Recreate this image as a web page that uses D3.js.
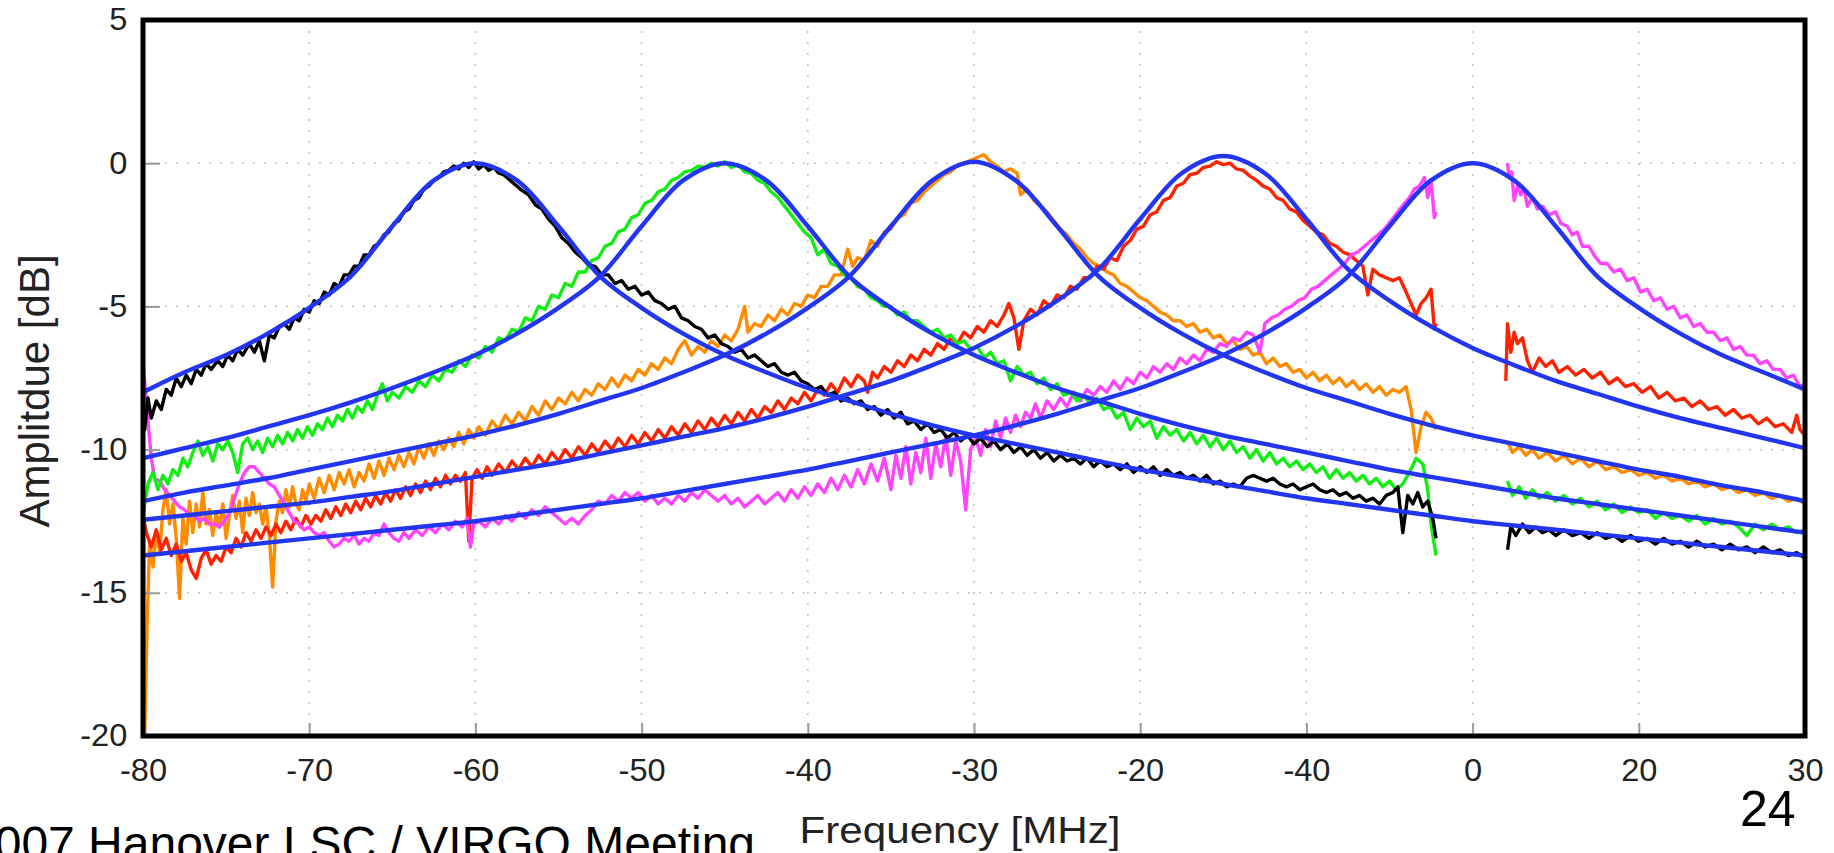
<!DOCTYPE html>
<html>
<head>
<meta charset="utf-8">
<title>Cavity scan</title>
<script src="https://d3js.org/d3.v7.min.js"></script>
<style>
  body { margin: 0; background: #fff; overflow: hidden; }
  svg { display: block; font-family: "Liberation Sans", Arial, Helvetica, sans-serif; }
</style>
</head>
<body>
<svg id="chart"></svg>
<script>
// ---- axis ticks (labels copied as printed on the slide) ----
var xTickValues = [-80, -70, -60, -50, -40, -30, -20, -10, 0, 10, 20];
var xTickLabels = ["-80", "-70", "-60", "-50", "-40", "-30", "-20", "-40", "0", "20", "30"];
var yTickValues = [5, 0, -5, -10, -15, -20];
var yTickLabels = ["5", "0", "-5", "-10", "-15", "-20"];

// ---- fitted curves (blue), read every 2.5 MHz ----
var fitX = [-80,-77.5,-75,-72.5,-70,-67.5,-65,-62.5,-60,-57.5,-55,-52.5,-50,-47.5,-45,-42.5,-40,-37.5,-35,-32.5,
            -30,-27.5,-25,-22.5,-20,-17.5,-15,-12.5,-10,-7.5,-5,-2.5,0,2.5,5,7.5,10,12.5,15,17.5,20];
var fitBlack = [-8.0,-7.3,-6.7,-5.95,-5.05,-3.95,-2.2,-0.6,0,-0.6,-2.2,-3.95,-5.05,-5.95,-6.7,-7.3,-7.85,-8.3,-8.75,-9.15,
                -9.5,-9.8,-10.1,-10.4,-10.7,-10.95,-11.2,-11.45,-11.7,-11.9,-12.1,-12.3,-12.5,-12.65,-12.8,-12.95,-13.1,-13.25,-13.4,-13.55,-13.7];
var fitGreen = [-10.3,-9.95,-9.6,-9.2,-8.8,-8.35,-7.85,-7.3,-6.7,-5.95,-5.05,-3.95,-2.2,-0.6,0,-0.6,-2.2,-3.95,-5.05,-5.95,
                -6.7,-7.3,-7.85,-8.3,-8.75,-9.15,-9.5,-9.8,-10.1,-10.4,-10.7,-10.95,-11.2,-11.45,-11.7,-11.9,-12.1,-12.3,-12.5,-12.7,-12.9];
var fitOrange = [-11.8,-11.5,-11.25,-11.0,-10.7,-10.4,-10.1,-9.8,-9.5,-9.15,-8.75,-8.3,-7.85,-7.3,-6.7,-5.95,-5.05,-3.95,-2.2,-0.6,
                 0.05,-0.6,-2.2,-3.95,-5.05,-5.95,-6.7,-7.3,-7.85,-8.3,-8.75,-9.15,-9.5,-9.8,-10.1,-10.4,-10.7,-10.95,-11.25,-11.5,-11.8];
var fitRed = [-12.45,-12.3,-12.15,-12.0,-11.85,-11.65,-11.45,-11.2,-10.95,-10.7,-10.45,-10.15,-9.85,-9.55,-9.25,-8.9,-8.5,-8.05,-7.6,-7.05,
              -6.45,-5.7,-4.8,-3.7,-1.95,-0.35,0.25,-0.35,-1.95,-3.7,-4.8,-5.7,-6.45,-7.05,-7.6,-8.05,-8.5,-8.9,-9.25,-9.6,-9.95];
var fitMagenta = [-13.7,-13.55,-13.4,-13.25,-13.1,-12.95,-12.8,-12.65,-12.5,-12.3,-12.1,-11.9,-11.7,-11.45,-11.2,-10.95,-10.7,-10.4,-10.1,-9.8,
                  -9.5,-9.15,-8.75,-8.3,-7.85,-7.3,-6.7,-5.95,-5.05,-3.95,-2.2,-0.6,0,-0.6,-2.2,-3.95,-5.05,-5.95,-6.7,-7.3,-7.9];

// ---- measured traces [MHz, dB]; each has a gap around the carrier ----
var blackLeft = [[-80,-8.4],[-79.9,-9.3],[-79.7,-8.2],[-79.5,-8.9],[-79.2,-8.3],[-78.9,-8.6],[-78.6,-7.9],[-78.3,-8.1],[-78,-7.5],[-77.7,-7.8],
  [-77.4,-7.4],[-77.1,-7.7],[-76.8,-7.2],[-76.5,-7.4],[-76.2,-7.0],[-75.9,-7.2],[-75.5,-6.9],[-75.2,-7.1],[-74.9,-6.7],[-74.6,-6.9],
  [-74.3,-6.5],[-74,-6.7],[-73.6,-6.3],[-73.3,-6.6],[-73,-6.2],[-72.7,-6.9],[-72.4,-6.0],[-72.1,-6.1],[-71.8,-5.7],[-71.5,-5.6],
  [-71.2,-5.8],[-70.9,-5.4],[-70.6,-5.5],[-70.3,-5.1],[-70,-5.2],[-69.7,-4.8],[-69.4,-4.9],[-69.1,-4.5],[-68.8,-4.6],[-68.5,-4.2],
  [-68.2,-4.3],[-67.9,-3.9],[-67.6,-3.9],[-67.3,-3.6],[-67,-3.6],[-66.7,-3.2],[-66.4,-3.2],[-66.1,-2.9],[-65.8,-2.8],[-65.5,-2.5],
  [-65.2,-2.4],[-64.9,-2.1],[-64.6,-2.0],[-64.3,-1.7],[-64,-1.6],[-63.7,-1.3],[-63.4,-1.2],[-63.1,-0.9],[-62.8,-0.8],[-62.5,-0.6],
  [-62.2,-0.5],[-61.9,-0.3],[-61.6,-0.25],[-61.3,-0.1],[-61,-0.2],[-60.7,0.0],[-60.4,-0.15],[-60.1,0.05],[-59.8,-0.2],[-59.5,-0.05],
  [-59.2,-0.25],[-58.9,-0.15],[-58.6,-0.35],[-58.3,-0.4],[-58,-0.55],[-57.6,-0.75],[-57.2,-0.95],[-56.8,-1.1],[-56.4,-1.45],[-56,-1.6],
  [-55.6,-1.95],[-55.2,-2.2],[-54.8,-2.6],[-54.4,-2.8],[-54,-3.1],[-53.6,-3.3],[-53.2,-3.55],[-52.8,-3.6],[-52.4,-3.9],[-52,-3.9],
  [-51.6,-4.2],[-51.2,-4.1],[-50.8,-4.4],[-50.4,-4.3],[-50,-4.6],[-49.6,-4.5],[-49.2,-4.8],[-48.8,-4.9],[-48.4,-5.1],[-48,-5.0],
  [-47.6,-5.4],[-47.2,-5.5],[-46.8,-5.7],[-46.4,-5.8],[-46,-6.1],[-45.6,-6.0],[-45.2,-6.3],[-44.8,-6.4],[-44.4,-6.6],[-44,-6.5],
  [-43.6,-6.8],[-43.2,-6.7],[-42.8,-6.9],[-42.4,-7.1],[-42,-7.0],[-41.6,-7.3],[-41.2,-7.4],[-40.8,-7.3],[-40.4,-7.6],[-40,-7.7],
  [-39.6,-7.9],[-39.2,-7.8],[-38.8,-8.1],[-38.4,-8.0],[-38,-8.3],[-37.6,-8.2],[-37.2,-8.4],[-36.8,-8.3],[-36.4,-8.6],[-36,-8.5],
  [-35.6,-8.8],[-35.2,-8.6],[-34.8,-8.9],[-34.4,-8.7],[-34,-9.1],[-33.6,-9.0],[-33.2,-9.3],[-32.8,-9.1],[-32.4,-9.4],[-32,-9.3],
  [-31.6,-9.6],[-31.2,-9.4],[-30.8,-9.7],[-30.4,-9.5],[-30,-9.8],[-29.6,-9.6],[-29.2,-9.9],[-28.8,-9.7],[-28.4,-10.0],[-28,-9.8],
  [-27.6,-10.1],[-27.2,-9.9],[-26.8,-10.2],[-26.4,-10.0],[-26,-10.3],[-25.6,-10.1],[-25.2,-10.4],[-24.8,-10.2],[-24.4,-10.4],[-24,-10.3],
  [-23.6,-10.5],[-23.2,-10.3],[-22.8,-10.6],[-22.4,-10.4],[-22,-10.6],[-21.6,-10.5],[-21.2,-10.7],[-20.8,-10.5],[-20.4,-10.8],[-20,-10.6],
  [-19.6,-10.8],[-19.2,-10.6],[-18.8,-10.9],[-18.4,-10.7],[-18,-10.9],[-17.6,-10.8],[-17.2,-11.0],[-16.8,-10.9],[-16.4,-11.1],[-16,-10.9],
  [-15.6,-11.2],[-15.2,-11.1],[-14.8,-11.3],[-14.4,-11.2],[-14,-11.3],[-13.6,-11.0],[-13.2,-10.9],[-12.8,-11.0],[-12.4,-11.1],[-12,-11.0],
  [-11.6,-11.2],[-11.2,-11.3],[-10.8,-11.2],[-10.4,-11.4],[-10,-11.3],[-9.6,-11.2],[-9.2,-11.4],[-8.8,-11.5],[-8.4,-11.4],[-8,-11.6],
  [-7.6,-11.5],[-7.2,-11.7],[-6.8,-11.6],[-6.4,-11.8],[-6,-11.7],[-5.6,-11.9],[-5.2,-11.6],[-4.8,-11.5],[-4.5,-11.3],[-4.2,-12.9],
  [-3.9,-11.6],[-3.6,-11.9],[-3.3,-11.5],[-3.0,-12.0],[-2.7,-11.8],[-2.4,-12.4],[-2.2,-13.1]];
var blackRight = [[2.1,-13.5],[2.3,-12.7],[2.6,-13.0],[3.0,-12.6],[3.4,-12.9],[3.8,-12.7],[4.2,-12.9],[4.6,-12.8],[5,-13.0],[5.5,-12.8],
  [6,-13.0],[6.5,-12.9],[7,-13.1],[7.5,-12.9],[8,-13.1],[8.5,-13.0],[9,-13.2],[9.5,-13.0],[10,-13.2],[10.5,-13.1],
  [11,-13.3],[11.5,-13.1],[12,-13.3],[12.5,-13.2],[13,-13.4],[13.5,-13.2],[14,-13.4],[14.5,-13.3],[15,-13.5],[15.5,-13.3],
  [16,-13.5],[16.5,-13.4],[17,-13.6],[17.5,-13.4],[18,-13.6],[18.5,-13.5],[19,-13.7],[19.5,-13.6],[20,-13.8]];

var greenLeft = [[-80,-12.6],[-79.9,-11.9],[-79.7,-11.2],[-79.4,-10.8],[-79.1,-11.4],[-78.8,-10.9],[-78.5,-11.2],[-78.2,-10.7],[-77.9,-10.9],[-77.6,-10.3],
  [-77.3,-10.6],[-77,-10.1],[-76.7,-9.7],[-76.4,-10.2],[-76.1,-9.9],[-75.8,-10.4],[-75.5,-9.8],[-75.2,-10.0],[-74.9,-9.7],[-74.6,-10.1],
  [-74.3,-10.8],[-74,-9.8],[-73.7,-9.6],[-73.4,-10.0],[-73.1,-9.7],[-72.8,-10.1],[-72.5,-9.6],[-72.2,-9.9],[-71.9,-9.5],[-71.6,-9.8],
  [-71.3,-9.4],[-71,-9.7],[-70.7,-9.3],[-70.4,-9.6],[-70.1,-9.2],[-69.8,-9.5],[-69.5,-9.1],[-69.2,-9.3],[-68.9,-8.9],[-68.6,-9.2],
  [-68.3,-8.8],[-68,-9.0],[-67.7,-8.6],[-67.4,-8.9],[-67.1,-8.5],[-66.8,-8.7],[-66.5,-8.3],[-66.2,-8.6],[-65.9,-8.1],[-65.6,-7.7],
  [-65.3,-8.3],[-65,-8.0],[-64.6,-8.2],[-64.2,-7.8],[-63.8,-8.0],[-63.4,-7.6],[-63,-7.8],[-62.6,-7.4],[-62.2,-7.6],[-61.8,-7.2],
  [-61.4,-7.3],[-61,-6.9],[-60.6,-7.1],[-60.2,-6.7],[-59.8,-6.8],[-59.4,-6.4],[-59,-6.6],[-58.6,-6.1],[-58.2,-6.2],[-57.8,-5.8],
  [-57.4,-5.9],[-57,-5.4],[-56.6,-5.5],[-56.2,-5.0],[-55.8,-5.1],[-55.4,-4.6],[-55,-4.7],[-54.6,-4.2],[-54.2,-4.3],[-53.8,-3.8],
  [-53.4,-3.8],[-53,-3.4],[-52.6,-3.3],[-52.2,-2.9],[-51.8,-2.8],[-51.4,-2.4],[-51,-2.3],[-50.6,-1.9],[-50.2,-1.8],[-49.8,-1.4],
  [-49.4,-1.3],[-49,-1.0],[-48.6,-0.9],[-48.2,-0.6],[-47.8,-0.5],[-47.4,-0.3],[-47,-0.25],[-46.6,-0.1],[-46.2,-0.15],[-45.8,0.0],
  [-45.4,-0.1],[-45,0.05],[-44.6,-0.15],[-44.2,-0.05],[-43.8,-0.3],[-43.4,-0.35],[-43,-0.6],[-42.6,-0.7],[-42.2,-1.0],[-41.8,-1.2],
  [-41.4,-1.5],[-41,-1.8],[-40.6,-2.1],[-40.2,-2.4],[-39.8,-2.6],[-39.4,-3.2],[-39,-3.0],[-38.6,-3.5],[-38.2,-3.6],[-37.8,-3.9],
  [-37.4,-4.0],[-37,-4.3],[-36.6,-4.4],[-36.2,-4.7],[-35.8,-4.8],[-35.4,-5.0],[-35,-5.0],[-34.6,-5.3],[-34.2,-5.2],[-33.8,-5.5],
  [-33.4,-5.5],[-33,-5.7],[-32.6,-5.9],[-32.2,-5.8],[-31.8,-6.1],[-31.4,-6.0],[-31,-6.3],[-30.6,-6.2],[-30.2,-6.5],[-29.8,-6.4],
  [-29.4,-6.8],[-29,-6.6],[-28.6,-7.0],[-28.2,-6.9],[-27.8,-7.6],[-27.4,-7.1],[-27,-7.4],[-26.6,-7.3],[-26.2,-7.7],[-25.8,-7.5],
  [-25.4,-7.9],[-25,-7.7],[-24.6,-8.1],[-24.2,-8.0],[-23.8,-8.3],[-23.4,-8.1],[-23,-8.4],[-22.6,-8.2],[-22.2,-8.6],[-21.8,-8.5],
  [-21.4,-8.9],[-21,-8.7],[-20.6,-9.3],[-20.2,-8.9],[-19.8,-9.2],[-19.4,-9.0],[-19,-9.6],[-18.6,-9.2],[-18.2,-9.5],[-17.8,-9.3],
  [-17.4,-9.7],[-17,-9.4],[-16.6,-9.8],[-16.2,-9.5],[-15.8,-9.9],[-15.4,-9.6],[-15,-10.0],[-14.6,-9.7],[-14.2,-10.1],[-13.8,-9.9],
  [-13.4,-10.3],[-13,-10.0],[-12.6,-10.4],[-12.2,-10.1],[-11.8,-10.5],[-11.4,-10.3],[-11,-10.6],[-10.6,-10.4],[-10.2,-10.7],[-9.8,-10.5],
  [-9.4,-10.8],[-9,-10.6],[-8.6,-11.0],[-8.2,-10.7],[-7.8,-11.0],[-7.4,-10.8],[-7,-11.1],[-6.6,-10.9],[-6.2,-11.2],[-5.8,-11.0],
  [-5.4,-11.3],[-5,-11.1],[-4.6,-11.4],[-4.2,-11.2],[-3.8,-10.8],[-3.4,-10.3],[-3.0,-10.5],[-2.7,-11.4],[-2.5,-12.6],[-2.2,-13.7]];
var greenRight = [[2.1,-11.1],[2.4,-11.6],[2.8,-11.3],[3.2,-11.7],[3.6,-11.4],[4,-11.7],[4.5,-11.5],[5,-11.8],[5.5,-11.6],[6,-11.9],
  [6.5,-11.7],[7,-12.0],[7.5,-11.8],[8,-12.1],[8.5,-11.9],[9,-12.2],[9.5,-12.0],[10,-12.2],[10.5,-12.1],[11,-12.4],
  [11.5,-12.2],[12,-12.4],[12.5,-12.3],[13,-12.5],[13.5,-12.3],[14,-12.6],[14.5,-12.4],[15,-12.6],[15.5,-12.5],[16,-12.7],
  [16.5,-13.0],[17,-12.6],[17.5,-12.8],[18,-12.6],[18.5,-12.8],[19,-12.7],[19.5,-12.9],[20,-12.8]];

var orangeLeft = [[-80,-17.5],[-79.9,-20.0],[-79.75,-16.0],[-79.6,-13.2],[-79.4,-14.1],[-79.2,-12.9],[-79,-13.6],[-78.8,-12.1],[-78.6,-11.4],[-78.4,-12.6],
  [-78.2,-11.9],[-78,-13.1],[-77.8,-15.2],[-77.6,-12.4],[-77.4,-13.3],[-77.2,-11.8],[-77,-12.9],[-76.8,-11.9],[-76.6,-12.7],[-76.4,-11.5],
  [-76.2,-12.6],[-76,-12.1],[-75.8,-13.0],[-75.6,-12.2],[-75.4,-12.7],[-75.2,-11.9],[-75,-13.1],[-74.8,-12.3],[-74.6,-11.6],[-74.4,-12.4],
  [-74.2,-11.8],[-74,-12.9],[-73.8,-11.7],[-73.6,-12.3],[-73.4,-11.5],[-73.2,-12.2],[-73,-11.9],[-72.8,-12.6],[-72.6,-12.0],[-72.4,-13.0],
  [-72.2,-14.8],[-72,-12.5],[-71.8,-11.8],[-71.6,-12.2],[-71.4,-11.4],[-71.2,-12.0],[-71,-11.3],[-70.8,-11.9],[-70.6,-12.1],[-70.4,-11.4],
  [-70.2,-11.8],[-70,-11.2],[-69.7,-11.7],[-69.4,-11.0],[-69.1,-11.5],[-68.8,-10.9],[-68.5,-11.4],[-68.2,-10.8],[-67.9,-11.2],[-67.6,-10.7],
  [-67.3,-11.3],[-67,-10.8],[-66.7,-11.1],[-66.4,-10.5],[-66.1,-11.0],[-65.8,-10.4],[-65.5,-10.9],[-65.2,-10.3],[-64.9,-10.7],[-64.6,-10.2],
  [-64.3,-10.6],[-64,-10.1],[-63.7,-10.5],[-63.4,-9.9],[-63.1,-10.3],[-62.8,-9.8],[-62.5,-10.2],[-62.2,-9.7],[-61.9,-10.0],[-61.6,-9.6],
  [-61.3,-9.9],[-61,-9.4],[-60.7,-9.8],[-60.4,-9.3],[-60.1,-9.6],[-59.8,-9.2],[-59.4,-9.5],[-59,-9.0],[-58.6,-9.3],[-58.2,-8.8],
  [-57.8,-9.1],[-57.4,-8.7],[-57,-9.0],[-56.6,-8.5],[-56.2,-8.8],[-55.8,-8.3],[-55.4,-8.6],[-55,-8.2],[-54.6,-8.4],[-54.2,-8.0],
  [-53.8,-8.3],[-53.4,-7.9],[-53,-8.1],[-52.6,-7.7],[-52.2,-7.9],[-51.8,-7.5],[-51.4,-7.8],[-51,-7.4],[-50.6,-7.6],[-50.2,-7.2],
  [-49.8,-7.4],[-49.4,-7.0],[-49,-7.2],[-48.6,-6.8],[-48.2,-7.0],[-47.8,-6.5],[-47.4,-6.2],[-47,-6.7],[-46.6,-6.4],[-46.2,-6.6],
  [-45.8,-6.2],[-45.4,-6.4],[-45,-6.0],[-44.6,-6.2],[-44.2,-5.8],[-43.8,-5.0],[-43.6,-5.9],[-43.2,-5.6],[-42.8,-5.7],[-42.4,-5.3],
  [-42,-5.5],[-41.6,-5.1],[-41.2,-5.3],[-40.8,-4.9],[-40.4,-5.0],[-40,-4.6],[-39.6,-4.7],[-39.2,-4.3],[-38.8,-4.3],[-38.4,-3.9],
  [-38,-3.9],[-37.6,-3.0],[-37.3,-3.6],[-37,-3.3],[-36.6,-3.4],[-36.2,-2.7],[-35.8,-2.9],[-35.4,-2.4],[-35,-2.3],[-34.6,-1.9],
  [-34.2,-1.8],[-33.8,-1.4],[-33.4,-1.3],[-33,-1.0],[-32.6,-0.8],[-32.2,-0.6],[-31.8,-0.4],[-31.4,-0.3],[-31,-0.1],[-30.6,0.0],
  [-30.2,0.1],[-29.8,0.2],[-29.4,0.3],[-29,0.05],[-28.6,-0.1],[-28.2,-0.3],[-27.8,-0.2],[-27.4,-0.35],[-27.2,-1.1],[-26.8,-0.9],
  [-26.4,-1.3],[-26,-1.5],[-25.6,-1.7],[-25.2,-2.0],[-24.8,-2.3],[-24.4,-2.5],[-24,-2.8],[-23.6,-3.0],[-23.2,-3.3],[-22.8,-3.5],
  [-22.4,-3.6],[-22,-3.8],[-21.6,-3.9],[-21.2,-4.2],[-20.8,-4.3],[-20.4,-4.5],[-20,-4.7],[-19.6,-4.8],[-19.2,-5.0],[-18.8,-5.2],
  [-18.4,-5.3],[-18,-5.5],[-17.6,-5.5],[-17.2,-5.7],[-16.8,-5.6],[-16.4,-5.9],[-16,-5.8],[-15.6,-6.1],[-15.2,-6.0],[-14.8,-6.3],
  [-14.4,-6.2],[-14,-6.5],[-13.6,-6.4],[-13.2,-6.7],[-12.8,-6.6],[-12.4,-7.0],[-12,-6.8],[-11.6,-7.1],[-11.2,-7.0],[-10.8,-7.3],
  [-10.4,-7.2],[-10,-7.5],[-9.6,-7.3],[-9.2,-7.6],[-8.8,-7.4],[-8.4,-7.7],[-8,-7.5],[-7.6,-7.8],[-7.2,-7.6],[-6.8,-7.9],
  [-6.4,-7.7],[-6,-8.0],[-5.6,-7.8],[-5.2,-8.1],[-4.8,-7.9],[-4.4,-8.0],[-4.0,-7.8],[-3.7,-8.6],[-3.4,-10.1],[-3.1,-9.2],
  [-2.8,-8.7],[-2.5,-8.9],[-2.2,-9.3]];
var orangeRight = [[2.1,-9.7],[2.4,-10.1],[2.8,-9.9],[3.2,-10.2],[3.6,-10.0],[4,-10.3],[4.5,-10.1],[5,-10.4],[5.5,-10.2],[6,-10.5],
  [6.5,-10.3],[7,-10.6],[7.5,-10.4],[8,-10.7],[8.5,-10.6],[9,-10.8],[9.5,-10.7],[10,-10.9],[10.5,-10.8],[11,-11.0],
  [11.5,-10.9],[12,-11.1],[12.5,-11.0],[13,-11.2],[13.5,-11.1],[14,-11.3],[14.5,-11.2],[15,-11.4],[15.5,-11.3],[16,-11.5],
  [16.5,-11.4],[17,-11.6],[17.5,-11.5],[18,-11.7],[18.5,-11.6],[19,-11.8],[19.5,-11.7],[20,-11.9]];

var redLeft = [[-80,-12.3],[-79.8,-12.9],[-79.5,-13.4],[-79.2,-12.8],[-78.9,-13.5],[-78.6,-13.1],[-78.3,-13.7],[-78,-13.3],[-77.7,-13.9],[-77.4,-13.6],
  [-77.1,-14.2],[-76.8,-14.5],[-76.5,-13.8],[-76.2,-13.5],[-75.9,-14.0],[-75.6,-13.7],[-75.3,-13.9],[-75,-13.4],[-74.7,-13.6],[-74.4,-13.1],
  [-74.1,-13.4],[-73.8,-12.9],[-73.5,-13.2],[-73.2,-12.8],[-72.9,-13.1],[-72.6,-12.7],[-72.3,-13.0],[-72,-12.6],[-71.7,-12.9],[-71.4,-12.5],
  [-71.1,-12.8],[-70.8,-12.4],[-70.5,-12.7],[-70.2,-12.3],[-69.9,-12.6],[-69.6,-12.3],[-69.3,-12.5],[-69,-12.1],[-68.7,-12.4],[-68.4,-12.0],
  [-68.1,-12.3],[-67.8,-11.9],[-67.5,-12.2],[-67.2,-11.8],[-66.9,-12.1],[-66.6,-11.7],[-66.3,-12.0],[-66,-11.6],[-65.7,-11.9],[-65.4,-11.5],
  [-65.1,-11.8],[-64.8,-11.4],[-64.5,-11.7],[-64.2,-11.3],[-63.9,-11.6],[-63.6,-11.2],[-63.3,-11.5],[-63,-11.1],[-62.7,-11.4],[-62.4,-11.0],
  [-62.1,-11.3],[-61.8,-10.9],[-61.5,-11.2],[-61.2,-10.9],[-60.9,-11.1],[-60.6,-10.8],[-60.4,-13.2],[-60.2,-11.0],[-59.9,-10.7],[-59.6,-11.0],
  [-59.3,-10.6],[-59,-10.9],[-58.6,-10.5],[-58.2,-10.8],[-57.8,-10.4],[-57.4,-10.7],[-57,-10.3],[-56.6,-10.6],[-56.2,-10.2],[-55.8,-10.5],
  [-55.4,-10.1],[-55,-10.4],[-54.6,-10.0],[-54.2,-10.3],[-53.8,-9.9],[-53.4,-10.2],[-53,-9.8],[-52.6,-10.1],[-52.2,-9.7],[-51.8,-10.0],
  [-51.4,-9.6],[-51,-9.9],[-50.6,-9.5],[-50.2,-9.8],[-49.8,-9.4],[-49.4,-9.7],[-49,-9.3],[-48.6,-9.6],[-48.2,-9.2],[-47.8,-9.5],
  [-47.4,-9.1],[-47,-9.4],[-46.6,-9.0],[-46.2,-9.3],[-45.8,-8.9],[-45.4,-9.2],[-45,-8.8],[-44.6,-9.1],[-44.2,-8.7],[-43.8,-9.0],
  [-43.4,-8.6],[-43,-8.9],[-42.6,-8.5],[-42.2,-8.7],[-41.8,-8.3],[-41.4,-8.6],[-41,-8.2],[-40.6,-8.4],[-40.2,-8.0],[-39.8,-8.3],
  [-39.4,-7.9],[-39,-8.1],[-38.6,-7.7],[-38.2,-8.0],[-37.8,-7.5],[-37.4,-7.8],[-37,-7.4],[-36.6,-7.6],[-36.4,-8.0],[-36.1,-7.3],
  [-35.8,-7.5],[-35.4,-7.1],[-35,-7.3],[-34.6,-6.9],[-34.2,-7.1],[-33.8,-6.7],[-33.4,-6.9],[-33,-6.5],[-32.6,-6.7],[-32.2,-6.3],
  [-31.8,-6.5],[-31.4,-6.1],[-31,-6.3],[-30.6,-5.9],[-30.2,-6.1],[-29.8,-5.7],[-29.4,-5.9],[-29,-5.5],[-28.6,-5.7],[-28.2,-5.3],
  [-27.9,-4.9],[-27.6,-5.4],[-27.3,-6.5],[-27,-5.5],[-26.6,-5.1],[-26.2,-5.3],[-25.8,-4.8],[-25.4,-5.0],[-25,-4.6],[-24.6,-4.7],
  [-24.2,-4.3],[-23.8,-4.4],[-23.4,-4.0],[-23,-4.0],[-22.6,-3.6],[-22.2,-3.7],[-21.8,-3.3],[-21.4,-3.4],[-21,-2.9],[-20.6,-2.7],
  [-20.2,-2.3],[-19.8,-2.2],[-19.4,-1.8],[-19,-1.7],[-18.6,-1.3],[-18.2,-1.2],[-17.8,-0.8],[-17.4,-0.7],[-17,-0.4],[-16.6,-0.35],
  [-16.2,-0.15],[-15.8,-0.1],[-15.4,0.05],[-15,-0.05],[-14.6,0.0],[-14.2,-0.2],[-13.8,-0.25],[-13.4,-0.45],[-13,-0.6],[-12.6,-0.8],
  [-12.2,-0.9],[-11.8,-1.2],[-11.4,-1.3],[-11,-1.6],[-10.6,-1.7],[-10.2,-2.0],[-9.8,-2.2],[-9.4,-2.4],[-9,-2.5],[-8.6,-2.8],
  [-8.2,-2.9],[-7.8,-3.1],[-7.4,-3.2],[-7,-3.4],[-6.6,-3.6],[-6.3,-4.6],[-6,-3.7],[-5.6,-3.9],[-5.2,-4.0],[-4.8,-4.1],
  [-4.4,-4.0],[-4.0,-4.5],[-3.7,-4.9],[-3.4,-5.3],[-3.1,-4.9],[-2.8,-4.7],[-2.5,-4.4],[-2.3,-5.8],[-2.2,-5.6]];
var redRight = [[2.0,-7.6],[2.1,-5.6],[2.3,-6.6],[2.5,-5.9],[2.7,-6.3],[3.0,-6.1],[3.3,-6.9],[3.6,-7.3],[4.0,-6.8],[4.4,-7.1],
  [4.8,-6.9],[5.2,-7.3],[5.7,-7.1],[6.2,-7.4],[6.7,-7.2],[7.2,-7.5],[7.7,-7.3],[8.2,-7.7],[8.7,-7.5],[9.2,-7.8],
  [9.7,-7.7],[10.2,-8.0],[10.7,-7.8],[11.2,-8.2],[11.7,-8.0],[12.2,-8.3],[12.7,-8.2],[13.2,-8.5],[13.7,-8.3],[14.2,-8.6],
  [14.7,-8.5],[15.2,-8.8],[15.7,-8.6],[16.2,-8.9],[16.7,-8.8],[17.2,-9.1],[17.7,-8.9],[18.2,-9.2],[18.7,-9.1],[19.2,-9.4],
  [19.5,-8.8],[19.7,-9.3],[20,-9.5]];

var magentaLeft = [[-80,-7.0],[-79.9,-7.6],[-79.7,-9.0],[-79.5,-10.3],[-79.3,-11.0],[-79,-11.1],[-78.7,-11.4],[-78.4,-11.6],[-78.1,-11.8],[-77.8,-12.0],
  [-77.5,-12.1],[-77.2,-12.3],[-76.9,-12.3],[-76.6,-12.5],[-76.3,-12.4],[-76,-12.6],[-75.7,-12.6],[-75.4,-12.7],[-75.1,-12.5],[-74.8,-12.2],
  [-74.5,-11.7],[-74.2,-11.2],[-73.9,-10.8],[-73.6,-10.6],[-73.3,-10.6],[-73,-10.8],[-72.7,-11.0],[-72.4,-11.2],[-72.1,-11.3],[-71.8,-11.6],
  [-71.5,-11.9],[-71.2,-12.2],[-70.9,-12.5],[-70.6,-12.6],[-70.3,-12.8],[-70,-12.7],[-69.7,-12.9],[-69.4,-13.0],[-69.1,-12.9],[-68.8,-13.2],
  [-68.5,-13.4],[-68.2,-13.3],[-67.9,-13.1],[-67.6,-13.2],[-67.3,-13.0],[-67,-13.3],[-66.7,-13.1],[-66.4,-13.2],[-66.1,-12.9],[-65.8,-13.0],
  [-65.5,-12.6],[-65.2,-12.9],[-64.9,-13.1],[-64.6,-13.2],[-64.3,-12.9],[-64,-13.1],[-63.6,-12.8],[-63.2,-13.0],[-62.8,-12.7],[-62.4,-12.9],
  [-62,-12.6],[-61.6,-12.8],[-61.2,-12.5],[-60.8,-12.7],[-60.5,-12.4],[-60.3,-13.4],[-60.1,-12.6],[-59.8,-12.5],[-59.4,-12.7],[-59,-12.4],
  [-58.6,-12.6],[-58.2,-12.3],[-57.8,-12.5],[-57.4,-12.2],[-57,-12.4],[-56.6,-12.1],[-56.2,-12.3],[-55.8,-12.0],[-55.4,-12.2],[-55,-12.4],
  [-54.6,-12.6],[-54.2,-12.4],[-53.8,-12.6],[-53.4,-12.3],[-53,-12.1],[-52.6,-11.8],[-52.2,-11.9],[-51.8,-11.6],[-51.4,-11.8],[-51,-11.5],
  [-50.6,-11.7],[-50.2,-11.5],[-49.8,-11.8],[-49.4,-11.6],[-49,-11.9],[-48.6,-11.7],[-48.2,-11.9],[-47.8,-11.6],[-47.4,-11.8],[-47,-11.5],
  [-46.6,-11.7],[-46.2,-11.4],[-45.8,-11.6],[-45.4,-11.8],[-45,-11.6],[-44.6,-11.9],[-44.2,-11.7],[-43.8,-12.0],[-43.4,-11.8],[-43,-11.6],
  [-42.6,-11.9],[-42.2,-11.7],[-41.8,-11.5],[-41.4,-11.8],[-41,-11.4],[-40.6,-11.7],[-40.2,-11.3],[-39.8,-11.6],[-39.4,-11.2],[-39,-11.5],
  [-38.6,-11.0],[-38.2,-11.4],[-37.8,-10.9],[-37.4,-11.3],[-37,-10.7],[-36.6,-11.2],[-36.2,-10.5],[-35.8,-11.1],[-35.4,-10.3],[-35,-11.4],
  [-34.7,-10.2],[-34.4,-11.0],[-34.1,-9.9],[-33.8,-11.2],[-33.5,-10.1],[-33.2,-10.8],[-32.9,-9.6],[-32.6,-11.0],[-32.3,-9.8],[-32,-10.6],
  [-31.7,-9.5],[-31.4,-10.9],[-31.1,-9.7],[-30.8,-10.4],[-30.5,-12.1],[-30.2,-10.0],[-29.9,-9.6],[-29.6,-10.2],[-29.3,-9.3],[-29,-9.9],
  [-28.7,-9.0],[-28.4,-9.6],[-28.1,-8.9],[-27.8,-9.4],[-27.5,-8.8],[-27.2,-9.2],[-26.9,-8.7],[-26.6,-8.9],[-26.3,-8.4],[-26,-8.9],
  [-25.6,-8.3],[-25.2,-8.6],[-24.8,-8.2],[-24.4,-8.5],[-24,-8.0],[-23.6,-8.3],[-23.2,-7.9],[-22.8,-8.1],[-22.4,-7.8],[-22,-8.0],
  [-21.6,-7.6],[-21.2,-7.9],[-20.8,-7.5],[-20.4,-7.7],[-20,-7.3],[-19.6,-7.5],[-19.2,-7.1],[-18.8,-7.3],[-18.4,-7.0],[-18,-7.2],
  [-17.6,-6.8],[-17.2,-7.0],[-16.8,-6.7],[-16.4,-6.9],[-16,-6.5],[-15.6,-6.6],[-15.2,-6.3],[-14.8,-6.4],[-14.4,-6.1],[-14,-6.2],
  [-13.6,-5.9],[-13.2,-6.0],[-12.8,-6.6],[-12.5,-5.6],[-12.1,-5.4],[-11.7,-5.3],[-11.3,-5.1],[-10.9,-5.0],[-10.5,-4.8],[-10.1,-4.7],
  [-9.7,-4.4],[-9.3,-4.3],[-8.9,-4.1],[-8.5,-3.9],[-8.1,-3.7],[-7.7,-3.5],[-7.3,-3.2],[-6.9,-3.1],[-6.5,-2.9],[-6.1,-2.7],
  [-5.7,-2.5],[-5.3,-2.3],[-4.9,-2.0],[-4.5,-1.7],[-4.1,-1.4],[-3.8,-1.2],[-3.5,-0.9],[-3.2,-0.8],[-2.9,-0.5],[-2.7,-1.2],
  [-2.5,-0.6],[-2.3,-1.9],[-2.2,-1.7]];
var magentaRight = [[2.1,0.0],[2.2,-0.5],[2.35,-0.3],[2.5,-1.3],[2.7,-0.8],[2.9,-1.1],[3.1,-0.9],[3.3,-1.5],[3.6,-1.2],[3.9,-1.6],
  [4.2,-1.5],[4.6,-1.8],[5.0,-1.7],[5.3,-2.1],[5.7,-2.2],[6.0,-2.5],[6.3,-2.4],[6.6,-2.9],[7.0,-2.9],[7.3,-3.2],
  [7.7,-3.5],[8.1,-3.5],[8.5,-3.8],[8.9,-3.7],[9.3,-4.1],[9.7,-4.0],[10.1,-4.5],[10.5,-4.4],[10.9,-4.8],[11.3,-4.7],
  [11.7,-5.1],[12.1,-5.0],[12.5,-5.4],[12.9,-5.3],[13.3,-5.7],[13.7,-5.6],[14.1,-5.9],[14.5,-5.9],[14.9,-6.2],[15.3,-6.1],
  [15.7,-6.5],[16.1,-6.4],[16.5,-6.7],[16.9,-6.7],[17.3,-7.0],[17.7,-6.9],[18.1,-7.2],[18.5,-7.2],[18.9,-7.5],[19.3,-7.4],
  [19.7,-7.8],[20,-7.7]];

// ---- drawing ----
var svgWidth = 1834, svgHeight = 853;
var plotLeft = 143, plotRight = 1805, plotTop = 20, plotBottom = 736;

var svg = d3.select("#chart")
    .attr("width", svgWidth)
    .attr("height", svgHeight);

var xScale = d3.scaleLinear().domain([-80, 20]).range([plotLeft, plotRight]);
var yScale = d3.scaleLinear().domain([-20, 5]).range([plotBottom, plotTop]);

svg.append("clipPath").attr("id", "plotClip")
  .append("rect")
    .attr("x", plotLeft).attr("y", plotTop)
    .attr("width", plotRight - plotLeft).attr("height", plotBottom - plotTop);

// dotted grid
var grid = svg.append("g").attr("stroke", "#c4c4c4").attr("stroke-width", 1.6).attr("stroke-dasharray", "2,9");
grid.selectAll(".vgrid").data(xTickValues.slice(1, -1)).enter().append("line")
    .attr("x1", function(d) { return xScale(d); }).attr("x2", function(d) { return xScale(d); })
    .attr("y1", plotTop).attr("y2", plotBottom);
grid.selectAll(".hgrid").data(yTickValues.slice(1, -1)).enter().append("line")
    .attr("y1", function(d) { return yScale(d); }).attr("y2", function(d) { return yScale(d); })
    .attr("x1", plotLeft).attr("x2", plotRight);

var line = d3.line()
    .x(function(d) { return xScale(d[0]); })
    .y(function(d) { return yScale(d[1]); });

var traces = [
  { color: "#ff8c00", parts: [orangeLeft, orangeRight] },
  { color: "#ff2200", parts: [redLeft, redRight] },
  { color: "#ff44ff", parts: [magentaLeft, magentaRight] },
  { color: "#11ee11", parts: [greenLeft, greenRight] },
  { color: "#000000", parts: [blackLeft, blackRight] }
];

var dataLayer = svg.append("g").attr("clip-path", "url(#plotClip)");
traces.forEach(function(t) {
  t.parts.forEach(function(p) {
    dataLayer.append("path")
        .attr("d", line(p))
        .attr("fill", "none")
        .attr("stroke", t.color)
        .attr("stroke-width", 3.4)
        .attr("stroke-linejoin", "round");
  });
});

var fitLine = d3.line()
    .x(function(d, i) { return xScale(fitX[i]); })
    .y(function(d) { return yScale(d); })
    .curve(d3.curveCatmullRom);

[fitBlack, fitGreen, fitOrange, fitRed, fitMagenta].forEach(function(f) {
  dataLayer.append("path")
      .attr("d", fitLine(f))
      .attr("fill", "none")
      .attr("stroke", "#2236f2")
      .attr("stroke-width", 4.4);
});

// axes
var xAxis = d3.axisBottom(xScale)
    .tickValues(xTickValues)
    .tickFormat(function(d) { return xTickLabels[xTickValues.indexOf(d)]; })
    .tickSizeInner(-13).tickSizeOuter(0).tickPadding(23);
var gx = svg.append("g").attr("transform", "translate(0," + plotBottom + ")").call(xAxis);
gx.attr("font-size", null).attr("font-family", null);
gx.select(".domain").remove();
gx.selectAll(".tick line").attr("stroke", "#9a9a9a").attr("stroke-width", 2);
gx.selectAll(".tick text").attr("fill", "#222").style("font-size", "31px").attr("transform", "scale(1.05,1)");

var yAxis = d3.axisLeft(yScale)
    .tickValues(yTickValues)
    .tickFormat(function(d) { return yTickLabels[yTickValues.indexOf(d)]; })
    .tickSizeInner(-17).tickSizeOuter(0).tickPadding(15);
var gy = svg.append("g").attr("transform", "translate(" + plotLeft + ",0)").call(yAxis);
gy.attr("font-size", null).attr("font-family", null);
gy.select(".domain").remove();
gy.selectAll(".tick line").attr("stroke", "#9a9a9a").attr("stroke-width", 2);
gy.selectAll(".tick text").attr("fill", "#222").style("font-size", "31px").attr("transform", "scale(1.05,1)");

// frame
svg.append("rect")
    .attr("x", plotLeft).attr("y", plotTop)
    .attr("width", plotRight - plotLeft).attr("height", plotBottom - plotTop)
    .attr("fill", "none").attr("stroke", "#000").attr("stroke-width", 5);

// titles
svg.append("text")
    .attr("transform", "translate(49," + 391 + ") rotate(-90)")
    .attr("text-anchor", "middle")
    .attr("fill", "#222")
    .style("font-size", "42px")
    .text("Amplitdue [dB]");

svg.append("text")
    .attr("transform", "translate(960,843) scale(1.14,1)")
    .attr("text-anchor", "middle")
    .attr("fill", "#222")
    .style("font-size", "37px")
    .text("Frequency [MHz]");

// slide furniture
svg.append("text")
    .attr("x", 1740).attr("y", 826)
    .attr("fill", "#000")
    .style("font-size", "50px")
    .text("24");

svg.append("text")
    .attr("x", -32).attr("y", 860)
    .attr("fill", "#000")
    .style("font-size", "48px")
    .text("2007 Hanover LSC / VIRGO Meeting");
</script>
</body>
</html>
